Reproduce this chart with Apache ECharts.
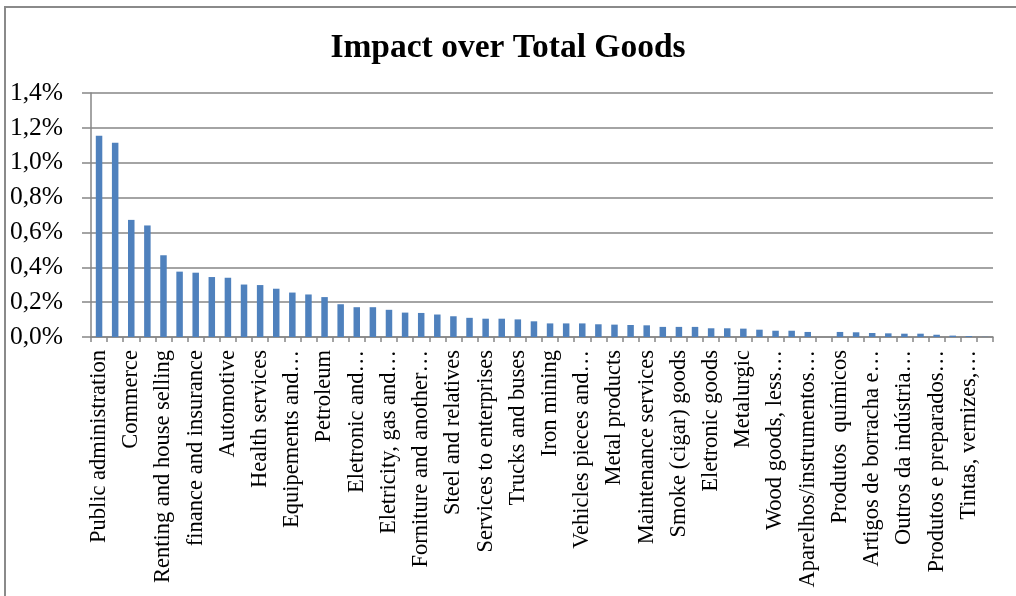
<!DOCTYPE html>
<html>
<head>
<meta charset="utf-8">
<script src="https://cdn.jsdelivr.net/npm/echarts@6/dist/echarts.min.js"></script>
<style>
  html, body { margin: 0; padding: 0; background: #fff; }
  #frame { position: absolute; left: 4px; top: 6px; width: 1200px; height: 800px;
           border-left: 2px solid #8a8a8a; border-top: 2px solid #8a8a8a; pointer-events: none; }
  #chart { position: absolute; left: 0; top: 0; width: 1016px; height: 596px; }
</style>
</head>
<body>
<div id="chart"></div>
<div id="frame"></div>
<script>
const titleText = 'Impact over Total Goods';

// 56 sectors; only every other label is shown in the original (others unknown -> blank)
const categories = [
  'Public administration', '',
  'Commerce', '',
  'Renting and house selling', '',
  'finance and insurance', '',
  'Automotive', '',
  'Health services', '',
  'Equipements and…', '',
  'Petroleum', '',
  'Eletronic and…', '',
  'Eletricity, gas and…', '',
  'Forniture and another…', '',
  'Steel and relatives', '',
  'Services to enterprises', '',
  'Trucks and buses', '',
  'Iron mining', '',
  'Vehicles pieces and…', '',
  'Metal products', '',
  'Maintenance services', '',
  'Smoke (cigar) goods', '',
  'Eletronic goods', '',
  'Metalurgic', '',
  'Wood goods, less…', '',
  'Aparelhos/instrumentos…', '',
  'Produtos  químicos', '',
  'Artigos de borracha e…', '',
  'Outros da indústria…', '',
  'Produtos e preparados…', '',
  'Tintas, vernizes,…', ''
];

// impact, in percent
const values = [
  1.154, 1.114, 0.672, 0.640, 0.469, 0.375, 0.369, 0.344, 0.340, 0.301,
  0.298, 0.277, 0.255, 0.244, 0.229, 0.188, 0.171, 0.171, 0.156, 0.140,
  0.138, 0.129, 0.119, 0.110, 0.105, 0.105, 0.101, 0.090, 0.078, 0.078,
  0.078, 0.073, 0.071, 0.069, 0.067, 0.058, 0.058, 0.058, 0.050, 0.050,
  0.048, 0.042, 0.036, 0.036, 0.029, 0.000, 0.029, 0.027, 0.023, 0.021,
  0.019, 0.019, 0.013, 0.008, 0.005, 0.001
];

const yMin = 0, yMax = 1.4, yStep = 0.2;

const grey = '#868686';
const serif = '"Liberation Serif", "Times New Roman", serif';

const chart = echarts.init(document.getElementById('chart'), null, { renderer: 'canvas' });
chart.setOption({
  animation: false,
  backgroundColor: 'transparent',
  title: {
    text: titleText,
    left: 'center',
    top: 26,
    textStyle: { fontFamily: serif, fontSize: 33.5, fontWeight: 'bold', color: '#000' }
  },
  grid: { left: 91, right: 23, top: 93, bottom: 259, containLabel: false },
  xAxis: {
    type: 'category',
    data: categories,
    boundaryGap: true,
    axisLine: { show: true, lineStyle: { color: grey, width: 1.5 } },
    axisTick: { show: true, interval: 0, length: 5, lineStyle: { color: grey, width: 1.5 } },
    axisLabel: {
      interval: 0, rotate: 90, margin: 13,
      fontFamily: serif, fontSize: 22.5, color: '#000'
    },
    splitLine: { show: false }
  },
  yAxis: {
    type: 'value',
    min: yMin, max: yMax, interval: yStep,
    axisLine: { show: true, lineStyle: { color: grey, width: 1.5 } },
    axisTick: { show: true, length: 9, lineStyle: { color: grey, width: 1.5 } },
    axisLabel: {
      margin: 28, fontFamily: serif, fontSize: 25.5, color: '#000',
      formatter: v => v.toFixed(1).replace('.', ',') + '%'
    },
    splitLine: { show: true, lineStyle: { color: grey, width: 1.5 } }
  },
  series: [{
    type: 'bar',
    data: values,
    barWidth: 6.5,
    itemStyle: { color: '#4F81BD' }
  }]
});
</script>
</body>
</html>
